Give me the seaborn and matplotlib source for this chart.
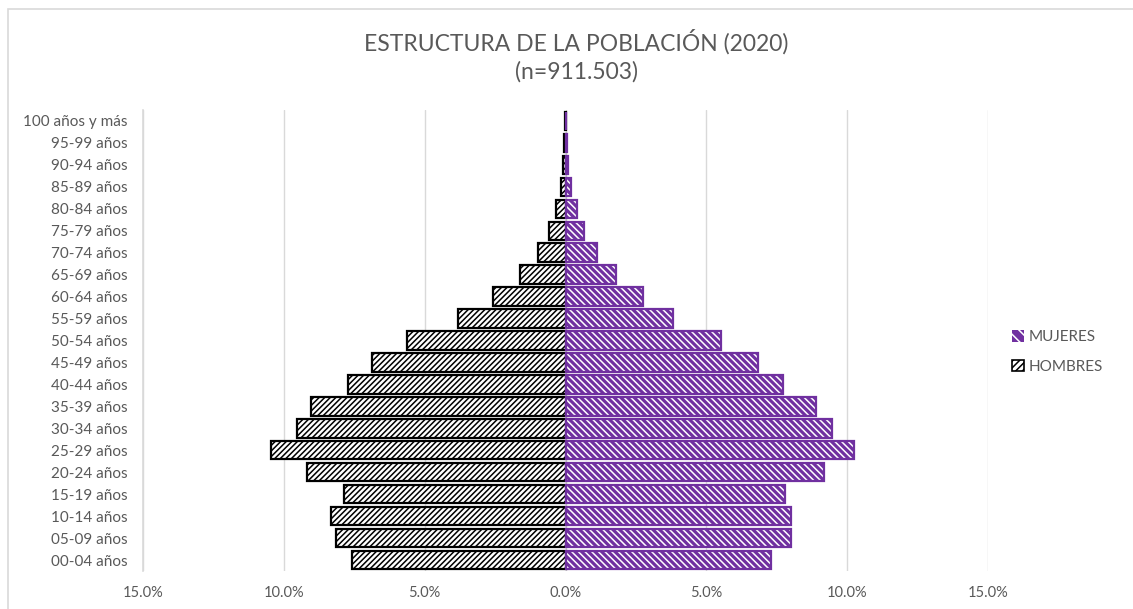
import pandas as pd
import matplotlib.pyplot as plt
import seaborn as sns
from matplotlib.patches import Rectangle, Patch

# Age groups (bottom to top of the pyramid)
edades = ['00-04 años', '05-09 años', '10-14 años', '15-19 años', '20-24 años',
          '25-29 años', '30-34 años', '35-39 años', '40-44 años', '45-49 años',
          '50-54 años', '55-59 años', '60-64 años', '65-69 años', '70-74 años',
          '75-79 años', '80-84 años', '85-89 años', '90-94 años', '95-99 años',
          '100 años y más']

# % of population
hombres = [7.57, 8.14, 8.31, 7.88, 9.17, 10.46, 9.55, 9.04, 7.73, 6.86,
           5.64, 3.80, 2.59, 1.62, 0.99, 0.58, 0.32, 0.17, 0.08, 0.04, 0.02]
mujeres = [7.31, 8.01, 8.01, 7.79, 9.17, 10.23, 9.47, 8.91, 7.73, 6.83,
           5.51, 3.82, 2.75, 1.81, 1.13, 0.65, 0.40, 0.20, 0.10, 0.05, 0.03]

xticks = [-15, -10, -5, 0, 5, 10, 15]
xtick_labels = ['15.0%', '10.0%', '5.0%', '0.0%', '5.0%', '10.0%', '15.0%']

PURPLE = '#7030A0'
GREY_TXT = '#595959'

df = pd.DataFrame({
    'Edad': edades * 2,
    'Sexo': ['HOMBRES'] * len(edades) + ['MUJERES'] * len(edades),
    'Valor': [-v for v in hombres] + mujeres,
})

sns.set_style("white")
plt.rcParams['font.family'] = ['Lato', 'DejaVu Sans']
plt.rcParams['hatch.linewidth'] = 1.1

fig = plt.figure(figsize=(11.33, 6.09), dpi=100)
ax = fig.add_axes([143 / 1133, 1 - 571 / 609, 845 / 1133, 461 / 609])

order = edades[::-1]
sns.barplot(data=df, y='Edad', x='Valor', hue='Sexo', order=order,
            hue_order=['HOMBRES', 'MUJERES'], dodge=False, width=0.84,
            orient='h', legend=False, ax=ax)

for p in list(ax.patches):
    w = p.get_width()
    if w < 0:
        p.set_facecolor('white')
        p.set_edgecolor('black')
        p.set_hatch('//////')
        p.set_linewidth(1.6)
    elif w > 0:
        p.set_facecolor(PURPLE)
        p.set_edgecolor('white')
        p.set_hatch('\\\\\\\\\\')
        p.set_linewidth(0)
        ax.add_patch(Rectangle(p.get_xy(), w, p.get_height(), fill=False,
                               edgecolor=PURPLE, linewidth=1.6, zorder=p.get_zorder() + 0.1))

ax.set_xlim(-15, 15)
ax.set_ylim(len(edades) - 0.5, -0.5)
ax.set_xticks(xticks)
ax.set_xticklabels(xtick_labels)
ax.set_xlabel('')
ax.set_ylabel('')
ax.tick_params(axis='x', length=0, labelsize=10.5, labelcolor=GREY_TXT, pad=11)
ax.tick_params(axis='y', length=0, labelsize=11, labelcolor=GREY_TXT, pad=11)

# vertical gridlines, category axis line at the left
ax.set_axisbelow(True)
ax.grid(axis='x', color='#d9d9d9', linewidth=1)
ax.grid(axis='y', visible=False)
for s in ['top', 'right', 'bottom']:
    ax.spines[s].set_visible(False)
ax.spines['left'].set_color('#d9d9d9')
ax.spines['left'].set_linewidth(1.2)

# title
fig.text(576 / 1133, 1 - 42 / 609, 'ESTRUCTURA DE LA POBLACIÓN (2020)', ha='center', va='center',
         fontsize=16.5, color=GREY_TXT)
fig.text(576 / 1133, 1 - 72 / 609, '(n=911.503)', ha='center', va='center',
         fontsize=16.5, color=GREY_TXT)

# legend
handles = [Patch(facecolor=PURPLE, edgecolor='white', hatch='\\\\\\', linewidth=0, label='MUJERES'),
           Patch(facecolor='white', edgecolor='black', hatch='/////', linewidth=1.2, label='HOMBRES')]
fig.legend(handles=handles, loc='center left', bbox_to_anchor=(998 / 1133, 1 - 352 / 609),
           frameon=False, fontsize=11, labelcolor=GREY_TXT, handlelength=0.8, handleheight=0.8,
           handletextpad=0.3, labelspacing=1.0)

# chart border
fig.patches.append(Rectangle((8 / 1133, -0.1), 1.2, 1.1 - 9 / 609, transform=fig.transFigure,
                             fill=False, edgecolor='#d9d9d9', linewidth=1.2))

plt.savefig('out.png', dpi=100)
